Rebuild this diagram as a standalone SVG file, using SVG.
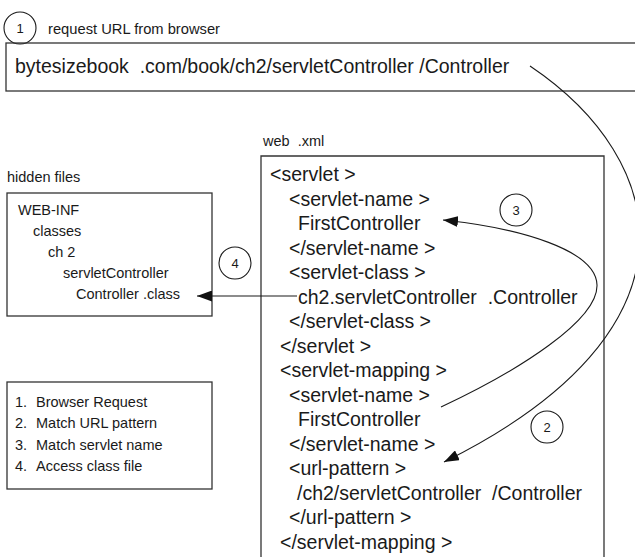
<svg xmlns="http://www.w3.org/2000/svg" width="635" height="557" viewBox="0 0 635 557">
<style>
  text { font-family: "Liberation Sans", Arial, sans-serif; fill: #1a1a1a; white-space: pre; }
  .box { fill: none; stroke: #333; stroke-width: 1.3; }
  .circ { fill: none; stroke: #1a1a1a; stroke-width: 1.1; }
  .num { font-size: 13px; text-anchor: middle; }
  .lbl { font-size: 14.5px; }
  .url { font-size: 19.5px; }
  .xml { font-size: 19.5px; }
  .tree { font-size: 14.5px; }
  .conn { fill: none; stroke: #1a1a1a; stroke-width: 1.1; }
</style>
<defs>
  <marker id="ah" viewBox="0 0 15 11" refX="15" refY="5.5" markerWidth="15" markerHeight="11" markerUnits="userSpaceOnUse" orient="auto">
    <path d="M0,0 L15,5.5 L0,11 Z" fill="#111"/>
  </marker>
</defs>

<g id="step1">
  <circle class="circ" cx="20" cy="28" r="16"/>
  <text class="num" x="20" y="33">1</text>
  <text class="lbl" x="48" y="34" textLength="172" lengthAdjust="spacingAndGlyphs">request URL from browser</text>
</g>

<g id="url-box">
  <rect class="box" x="6" y="43" width="640" height="48"/>
  <text class="url" x="15" y="73">bytesizebook  .com/book/ch2/servletController /Controller</text>
</g>

<g id="hidden-files">
  <text class="lbl" x="7" y="182">hidden files</text>
  <rect class="box" x="7" y="193" width="205" height="123"/>
  <text class="tree" x="18" y="215">WEB-INF</text>
  <text class="tree" x="33" y="236">classes</text>
  <text class="tree" x="48" y="257">ch 2</text>
  <text class="tree" x="63" y="278">servletController</text>
  <text class="tree" x="76" y="299">Controller .class</text>
</g>

<g id="legend">
  <rect class="box" x="7" y="382" width="205" height="107"/>
  <text class="tree" x="15" y="406.5">1.</text><text class="tree" x="36" y="406.5">Browser Request</text>
  <text class="tree" x="15" y="428">2.</text><text class="tree" x="36" y="428">Match URL pattern</text>
  <text class="tree" x="15" y="449.5">3.</text><text class="tree" x="36" y="449.5">Match servlet name</text>
  <text class="tree" x="15" y="471">4.</text><text class="tree" x="36" y="471">Access class file</text>
</g>

<g id="web-xml">
  <text class="lbl" x="263" y="146">web  .xml</text>
  <path class="box" d="M261,570 L261,156 L604,156 L604,570"/>
  <text class="xml" x="270" y="181">&lt;servlet &gt;</text>
  <text class="xml" x="289" y="205.5">&lt;servlet-name &gt;</text>
  <text class="xml" x="298" y="230">FirstController</text>
  <text class="xml" x="289" y="254.5">&lt;/servlet-name &gt;</text>
  <text class="xml" x="289" y="279">&lt;servlet-class &gt;</text>
  <text class="xml" x="298" y="303.5">ch2.servletController  .Controller</text>
  <text class="xml" x="289" y="328">&lt;/servlet-class &gt;</text>
  <text class="xml" x="280" y="352.5">&lt;/servlet &gt;</text>
  <text class="xml" x="280" y="377">&lt;servlet-mapping &gt;</text>
  <text class="xml" x="289" y="401.5">&lt;servlet-name &gt;</text>
  <text class="xml" x="298" y="426">FirstController</text>
  <text class="xml" x="289" y="450.5">&lt;/servlet-name &gt;</text>
  <text class="xml" x="289" y="475">&lt;url-pattern &gt;</text>
  <text class="xml" x="297" y="499.5">/ch2/servletController  /Controller</text>
  <text class="xml" x="289" y="524">&lt;/url-pattern &gt;</text>
  <text class="xml" x="280" y="548.5">&lt;/servlet-mapping &gt;</text>
</g>

<g id="step2"><circle class="circ" cx="547" cy="427" r="16"/><text class="num" x="547" y="432">2</text></g>
<g id="step3"><circle class="circ" cx="516" cy="210" r="16"/><text class="num" x="516" y="215">3</text></g>
<g id="step4"><circle class="circ" cx="235" cy="263" r="16"/><text class="num" x="235" y="268">4</text></g>

<g id="connectors">
  <path class="conn" marker-end="url(#ah)" d="M530,66 C670,160 710,330 444,462"/>
  <path class="conn" marker-end="url(#ah)" d="M441,407 C520,370 598,320 597,285 C596,250 520,228 443,220"/>
  <path class="conn" marker-end="url(#ah)" d="M297,296 L197,296"/>
</g>
</svg>
